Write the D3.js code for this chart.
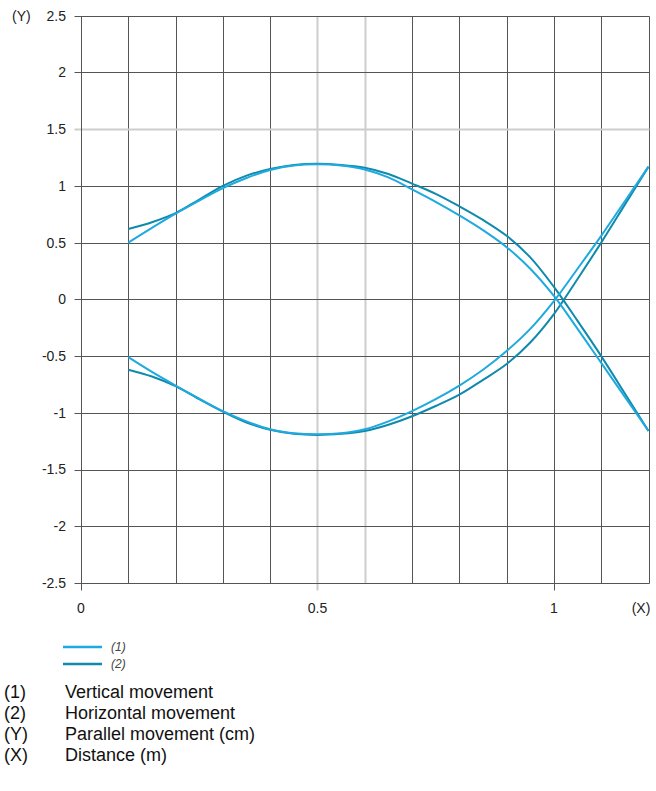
<!DOCTYPE html>
<html>
<head>
<meta charset="utf-8">
<script src="https://cdn.jsdelivr.net/npm/d3@7"></script>
<style>
  body { margin: 0; background: #fff; }
  svg { display: block; font-family: Arial, "Liberation Sans", sans-serif; }
</style>
</head>
<body>
<svg id="chart" width="656" height="791"></svg>
<script>
// distance (m) at which the curves were read
var distance = [0.1, 0.15, 0.2, 0.25, 0.3, 0.35, 0.4, 0.45, 0.5, 0.55, 0.6, 0.65,
  0.7, 0.75, 0.8, 0.85, 0.9, 0.95, 1.0, 1.05, 1.1, 1.15, 1.2];

// (1) vertical movement, two branches
var verticalUpper = [0.50, 0.63, 0.755, 0.87, 0.98, 1.07, 1.14, 1.18, 1.19, 1.18, 1.145, 1.075,
  0.97, 0.86, 0.74, 0.61, 0.46, 0.27, 0.03, -0.26, -0.56, -0.86, -1.16];
var verticalLower = [-0.51, -0.64, -0.76, -0.875, -0.985, -1.075, -1.145, -1.18, -1.19, -1.18, -1.145, -1.075,
  -0.985, -0.88, -0.76, -0.62, -0.455, -0.26, -0.015, 0.27, 0.56, 0.865, 1.17];

// (2) horizontal movement, two branches
var horizontalUpper = [0.62, 0.68, 0.76, 0.88, 1.0, 1.09, 1.15, 1.185, 1.195, 1.185, 1.16, 1.105,
  1.02, 0.93, 0.82, 0.70, 0.56, 0.37, 0.11, -0.19, -0.50, -0.83, -1.16];
var horizontalLower = [-0.62, -0.68, -0.765, -0.88, -0.99, -1.085, -1.15, -1.185, -1.195, -1.185, -1.16, -1.105,
  -1.03, -0.94, -0.84, -0.71, -0.57, -0.38, -0.13, 0.18, 0.50, 0.835, 1.17];

var yTicks = [-2.5, -2, -1.5, -1, -0.5, 0, 0.5, 1, 1.5, 2, 2.5];
var xGrid = [0.1, 0.2, 0.3, 0.4, 0.5, 0.6, 0.7, 0.8, 0.9, 1.0, 1.1, 1.2];
var xTicks = [0, 0.5, 1];
var lightGridX = [0.5, 0.6];
var lightGridY = [1.5];

var legendItems = ['(1)', '(2)'];
var notes = [
  ['(1)', 'Vertical movement'],
  ['(2)', 'Horizontal movement'],
  ['(Y)', 'Parallel movement (cm)'],
  ['(X)', 'Distance (m)']
];

var lightBlue = '#1ea9df';
var darkBlue = '#0f8aad';
var gridDark = '#555';
var gridLight = '#cdcdcd';

var svg = d3.select('#chart');
var x = d3.scaleLinear().domain([0, 1.2]).range([81, 648.5]);
var y = d3.scaleLinear().domain([-2.5, 2.5]).range([583, 15.7]);

// snap thin lines to the pixel grid so they stay crisp
var px = function(v) { return Math.round(v) + 0.5; };

var isLight = function(list, v) {
  return list.some(function(d) { return Math.abs(d - v) < 1e-9; });
};

// vertical grid
svg.append('g').selectAll('line')
    .data(xGrid)
  .enter().append('line')
    .attr('x1', function(d) { return px(x(d)); })
    .attr('x2', function(d) { return px(x(d)); })
    .attr('y1', px(y(2.5)))
    .attr('y2', function(d) { return isLight(xTicks, d) ? px(y(-2.5)) + 7 : px(y(-2.5)); })
    .attr('stroke', function(d) { return isLight(lightGridX, d) ? gridLight : gridDark; })
    .attr('stroke-width', function(d) { return isLight(lightGridX, d) ? 2 : 1; });

// horizontal grid, running out over the y ticks
svg.append('g').selectAll('line')
    .data(yTicks)
  .enter().append('line')
    .attr('x1', px(x(0)) - 7)
    .attr('x2', px(x(1.2)))
    .attr('y1', function(d) { return px(y(d)); })
    .attr('y2', function(d) { return px(y(d)); })
    .attr('stroke', function(d) { return isLight(lightGridY, d) ? gridLight : gridDark; })
    .attr('stroke-width', function(d) { return isLight(lightGridY, d) ? 2 : 1; });

// left axis with tick below zero
svg.append('line')
    .attr('x1', px(x(0))).attr('x2', px(x(0)))
    .attr('y1', px(y(2.5))).attr('y2', px(y(-2.5)) + 7)
    .attr('stroke', gridDark);

// y labels
svg.append('g').selectAll('text')
    .data(yTicks)
  .enter().append('text')
    .attr('x', 66)
    .attr('y', function(d) { return y(d); })
    .attr('dy', '0.35em')
    .attr('text-anchor', 'end')
    .attr('font-size', 14)
    .attr('fill', '#222')
    .text(function(d) { return String(d); });

svg.append('text')
    .attr('x', 12).attr('y', y(2.5)).attr('dy', '0.35em')
    .attr('font-size', 14).attr('fill', '#222')
    .text('(Y)');

// x labels
svg.append('g').selectAll('text')
    .data(xTicks)
  .enter().append('text')
    .attr('x', function(d) { return x(d); })
    .attr('y', 608)
    .attr('dy', '0.35em')
    .attr('text-anchor', 'middle')
    .attr('font-size', 14)
    .attr('fill', '#222')
    .text(function(d) { return String(d); });

svg.append('text')
    .attr('x', 641).attr('y', 608).attr('dy', '0.35em')
    .attr('text-anchor', 'middle')
    .attr('font-size', 14).attr('fill', '#222')
    .text('(X)');

// curves
var line = d3.line()
    .x(function(d) { return x(d[0]); })
    .y(function(d) { return y(d[1]); })
    .curve(d3.curveCatmullRom.alpha(0.5));

var series = [
  {values: horizontalUpper, color: darkBlue},
  {values: horizontalLower, color: darkBlue},
  {values: verticalUpper, color: lightBlue},
  {values: verticalLower, color: lightBlue}
];

svg.append('g').selectAll('path')
    .data(series)
  .enter().append('path')
    .attr('fill', 'none')
    .attr('stroke', function(d) { return d.color; })
    .attr('stroke-width', 2)
    .attr('d', function(d) {
      return line(distance.map(function(v, i) { return [v, d.values[i]]; }));
    });

// legend
var legend = svg.append('g').selectAll('g')
    .data(legendItems)
  .enter().append('g')
    .attr('transform', function(d, i) { return 'translate(0,' + (647 + i * 17) + ')'; });

legend.append('line')
    .attr('x1', 63).attr('x2', 102)
    .attr('stroke', function(d, i) { return i === 0 ? lightBlue : darkBlue; })
    .attr('stroke-width', 2.5);

legend.append('text')
    .attr('x', 111).attr('dy', '0.35em')
    .attr('font-size', 12).attr('font-style', 'italic').attr('fill', '#444')
    .text(function(d) { return d; });

// notes below
var note = svg.append('g').selectAll('g')
    .data(notes)
  .enter().append('g')
    .attr('transform', function(d, i) { return 'translate(0,' + (692 + i * 21) + ')'; });

note.append('text')
    .attr('x', 4).attr('dy', '0.35em')
    .attr('font-size', 18).attr('fill', '#111')
    .text(function(d) { return d[0]; });

note.append('text')
    .attr('x', 65).attr('dy', '0.35em')
    .attr('font-size', 18).attr('fill', '#111')
    .text(function(d) { return d[1]; });
</script>
</body>
</html>
